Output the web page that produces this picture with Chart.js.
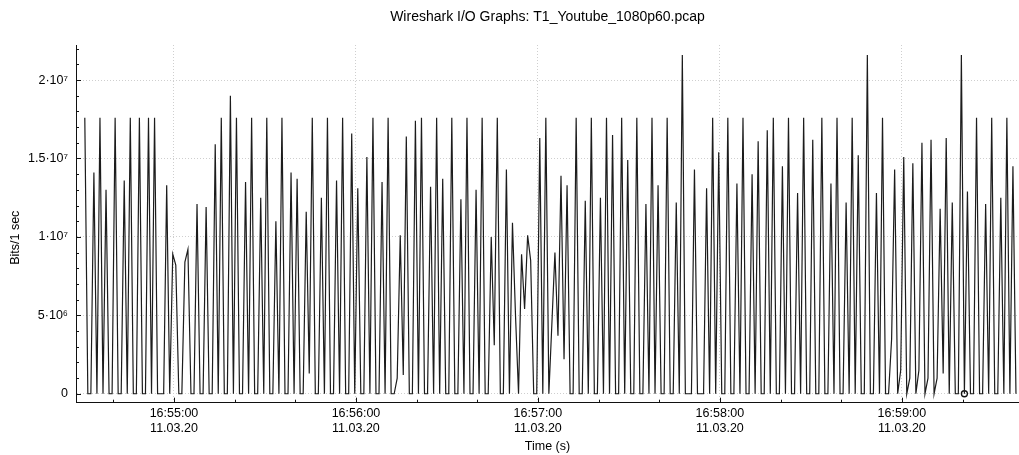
<!DOCTYPE html>
<html>
<head>
<meta charset="utf-8">
<title>Wireshark I/O Graphs</title>
<script src="https://cdn.jsdelivr.net/npm/chart.js@4/dist/chart.umd.min.js"></script>
<style>
  html, body { margin: 0; padding: 0; background: #fff; }
  #wrap { width: 1019px; height: 455px; }
</style>
</head>
<body>
<div id="wrap"><canvas id="io-chart" width="1019" height="455"></canvas></div>
<script>
// capture info
var chartTitle = 'Wireshark I/O Graphs: T1_Youtube_1080p60.pcap';
var captureDate = '11.03.20';
var baseClock = [16, 54, 0];      // x values are seconds after this clock time
var firstSample = 30.6;           // first 1 s interval
var viewStart = 27.7;
var viewEnd = 338.6;
var markedSecond = 320.6;         // selected packet (little circle)

// bits per 1 sec interval, in Mbit
var mbits = [
  17.6, 0, 0, 14.1, 0, 17.6, 0, 13.0, 0, 0,
  17.6, 0, 0, 13.6, 0, 17.6, 0, 0, 17.6, 0,
  0, 17.6, 0, 17.6, 0, 0, 0, 13.3, 0, 8.9,
  8.2, 0, 0, 8.4, 9.2, 0, 0, 12.1, 0, 0,
  11.9, 0, 0, 15.9, 0, 17.6, 0, 0, 19.0, 0,
  17.6, 0, 0, 13.5, 0, 17.6, 0, 0, 12.5, 0,
  17.6, 0, 0, 11.0, 0, 17.6, 0, 0, 14.1, 0,
  13.7, 0, 0, 11.6, 1.3, 17.6, 0, 0, 12.5, 0,
  17.6, 0, 0, 13.6, 0, 17.6, 0, 0, 16.6, 0,
  13.1, 0, 0, 15.1, 0, 17.6, 0, 0, 13.5, 0,
  17.6, 0, 0, 1.0, 10.1, 1.2, 16.4, 0, 0, 17.4,
  0, 17.6, 0, 0, 13.2, 0, 17.6, 0, 13.7, 0,
  0, 17.6, 0, 0, 12.4, 0, 17.6, 0, 0, 13.0,
  0, 17.6, 0, 0, 10.0, 3.1, 17.6, 0, 0, 14.3,
  0, 10.9, 5.0, 0, 8.9, 5.4, 10.1, 8.5, 0, 0,
  16.3, 0, 17.6, 0, 4.5, 9.0, 3.7, 13.9, 2.2, 13.3,
  0, 0, 17.6, 0, 0, 12.3, 0, 17.6, 0, 0,
  12.5, 0, 17.6, 0, 16.5, 0, 0, 17.6, 0, 14.9,
  0, 0, 17.6, 0, 0, 12.1, 0, 17.6, 0, 13.3,
  0, 0, 17.6, 0, 0, 12.2, 0, 21.6, 0, 0,
  0, 14.3, 0, 0, 0, 13.1, 0, 17.6, 0, 15.4,
  0, 0, 17.6, 0, 0, 13.4, 0, 17.6, 0, 0,
  14.0, 0, 16.1, 0, 0, 16.8, 0, 17.6, 0, 0,
  14.5, 0, 17.6, 0, 0, 12.8, 0, 17.6, 0, 0,
  16.2, 0, 0, 17.6, 0, 0, 13.4, 0, 17.6, 0,
  0, 12.2, 0, 17.6, 0, 15.2, 0, 0, 21.6, 0,
  0, 12.8, 0, 17.6, 0, 0, 3.5, 14.3, 0, 1.5,
  15.1, 0, 1.0, 14.7, 0, 1.5, 16.0, 0, 1.0, 16.2,
  0, 1.0, 11.8, 1.3, 16.3, 0, 12.2, 0, 0, 21.6,
  0, 12.9, 0, 0, 17.6, 0, 0, 12.1, 0, 17.6,
  0, 0, 12.5, 0, 17.6, 0, 14.5, 0
];

// axis ticks
var timeTicks = [40, 60, 80, 100, 120, 140, 160, 180, 200, 220, 240, 260, 280, 300, 320];
var bitTicks = [];
for (var b = 0; b <= 22; b++) bitTicks.push(b * 1e6);
var yMin = -0.057e7;
var yMax = 2.2236e7;

var supDigits = ['\u2070', '\u00b9', '\u00b2', '\u00b3', '\u2074', '\u2075', '\u2076', '\u2077', '\u2078', '\u2079'];

function pad2(n){
  return (n < 10 ? '0' : '') + n;
}

function clockLabel(sec){
  var total = baseClock[0] * 3600 + baseClock[1] * 60 + baseClock[2] + Math.round(sec);
  var h = Math.floor(total / 3600), m = Math.floor(total / 60) % 60, s = total % 60;
  return pad2(h) + ':' + pad2(m) + ':' + pad2(s);
}

function sciLabel(v){
  if (v === 0) return '0';
  var exp = Math.floor(Math.log10(v) + 1e-9);
  var mant = Math.round(v / Math.pow(10, exp) * 100) / 100;
  var sup = String(exp).split('').map(function(d){ return supDigits[+d]; }).join('');
  return mant + '\u00b7' + '10' + sup;
}

var points = mbits.map(function(v, i){
  return {x: firstSample + i, y: v * 1e6};
});
var marked = [{x: markedSecond, y: mbits[Math.round(markedSecond - firstSample)] * 1e6}];

// Wireshark draws short tick marks inside the plot
var innerTicks = {
  id: 'innerTicks',
  afterDraw: function(chart){
    var ctx = chart.ctx, area = chart.chartArea;
    var xs = chart.scales.x, ys = chart.scales.y;
    ctx.save();
    ctx.strokeStyle = '#111';
    ctx.lineWidth = 1;
    ctx.beginPath();
    xs.ticks.forEach(function(t){
      var px = Math.round(xs.getPixelForValue(t.value)) + 0.5;
      var len = t.value % 60 === 0 ? 5 : 3;
      ctx.moveTo(px, area.bottom);
      ctx.lineTo(px, area.bottom - len);
    });
    ys.ticks.forEach(function(t){
      var py = Math.round(ys.getPixelForValue(t.value)) + 0.5;
      var len = t.value % 5e6 === 0 ? 5 : 3;
      ctx.moveTo(area.left, py);
      ctx.lineTo(area.left + len, py);
    });
    ctx.stroke();
    ctx.restore();
  }
};

var fontFamily = '"Liberation Sans", Arial, Helvetica, sans-serif';

new Chart(document.getElementById('io-chart').getContext('2d'), {
  type: 'line',
  data: {
    datasets: [{
      data: points,
      borderColor: '#1c1c1c',
      borderWidth: 1.2,
      pointRadius: 0,
      tension: 0,
      fill: false
    }, {
      data: marked,
      showLine: false,
      pointRadius: 3,
      pointStyle: 'circle',
      borderColor: '#111',
      borderWidth: 1.3,
      backgroundColor: 'rgba(255,255,255,0)'
    }]
  },
  options: {
    responsive: false,
    animation: false,
    devicePixelRatio: 1,
    layout: { autoPadding: false, padding: { left: 0, right: 0, top: 0, bottom: 0 } },
    plugins: {
      legend: { display: false },
      tooltip: { enabled: false },
      title: {
        display: true,
        text: chartTitle,
        fullSize: false,
        color: '#000',
        font: { family: fontFamily, size: 14, weight: 'normal', lineHeight: 1.2 },
        padding: { top: 9, bottom: 19.2 }
      }
    },
    scales: {
      x: {
        type: 'linear',
        min: viewStart,
        max: viewEnd,
        afterBuildTicks: function(axis){
          axis.ticks = timeTicks.map(function(v){ return {value: v}; });
        },
        ticks: {
          autoSkip: false,
          maxRotation: 0,
          padding: 3,
          color: '#000',
          font: { family: fontFamily, size: 12.5, lineHeight: 1.2 },
          callback: function(value){
            return value % 60 === 0 ? [clockLabel(value), captureDate] : '';
          }
        },
        grid: {
          drawTicks: false,
          lineWidth: 1,
          color: function(c){
            return c.tick && c.tick.value % 60 === 0 ? '#cfcfcf' : 'rgba(0,0,0,0)';
          }
        },
        border: { display: true, color: '#111', width: 1, dash: [1, 2] },
        title: {
          display: true,
          text: 'Time (s)',
          color: '#000',
          font: { family: fontFamily, size: 12.5, lineHeight: 1.2 },
          padding: { top: 0, bottom: 1.3 }
        }
      },
      y: {
        type: 'linear',
        min: yMin,
        max: yMax,
        afterBuildTicks: function(axis){
          axis.ticks = bitTicks.map(function(v){ return {value: v}; });
        },
        afterFit: function(axis){
          axis.width = 76;
        },
        ticks: {
          autoSkip: false,
          padding: 8,
          color: '#000',
          font: { family: fontFamily, size: 12.5 },
          callback: function(value){
            return value % 5e6 === 0 ? sciLabel(value) : '';
          }
        },
        grid: {
          drawTicks: false,
          lineWidth: 1,
          color: function(c){
            return c.tick && c.tick.value % 5e6 === 0 ? '#cfcfcf' : 'rgba(0,0,0,0)';
          }
        },
        border: { display: true, color: '#111', width: 1, dash: [1, 2] },
        title: {
          display: true,
          // trailing spaces nudge the rotated label a bit lower, like Wireshark
          text: 'Bits/1 sec\u00a0\u00a0\u00a0\u00a0\u00a0\u00a0\u00a0\u00a0',
          color: '#000',
          font: { family: fontFamily, size: 12.5, lineHeight: 1.2 },
          padding: { top: 8, bottom: 0 }
        }
      }
    }
  },
  plugins: [innerTicks]
});
</script>
</body>
</html>
